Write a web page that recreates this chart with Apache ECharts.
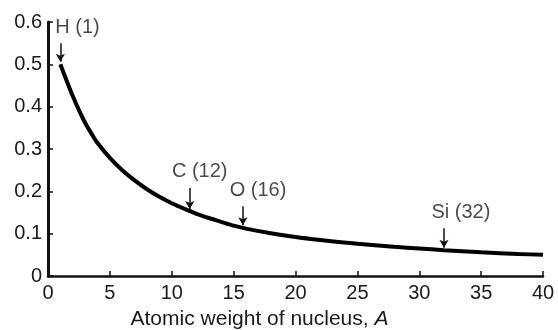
<!DOCTYPE html>
<html>
<head>
<meta charset="utf-8">
<script src="https://cdn.jsdelivr.net/npm/echarts@6/dist/echarts.min.js"></script>
<style>
  html, body { margin: 0; padding: 0; background: #fff; }
  #chart { width: 558px; height: 330px; }
</style>
</head>
<body>
<div id="chart"></div>
<script>
// curve
const atomicWeight = [1, 1.5, 2, 2.5, 3, 3.5, 4, 5, 6, 7, 8, 9, 10, 11, 12, 13, 14, 15, 16, 18, 20, 22, 25, 28, 30, 32, 35, 38, 40];
const energyLoss = [0.500, 0.462, 0.425, 0.392, 0.362, 0.337, 0.314, 0.279, 0.250, 0.226, 0.205, 0.187, 0.172, 0.159, 0.147, 0.137, 0.128, 0.119, 0.112, 0.101, 0.092, 0.085, 0.076, 0.069, 0.065, 0.061, 0.056, 0.052, 0.050];

// element markers
const noteNames = ['H (1)', 'C (12)', 'O (16)', 'Si (32)'];
const noteArrowX = [1, 11.45, 15.75, 32];
const noteArrowTop = [0.55, 0.208, 0.165, 0.113];
const noteArrowTip = [0.506, 0.158, 0.12, 0.067];
const noteLabelX = [2.38, 12.26, 16.97, 33.37];
const noteLabelY = [0.586, 0.246, 0.203, 0.149];

const xTicks = [0, 5, 10, 15, 20, 25, 30, 35, 40];
const yTicks = [0, 0.1, 0.2, 0.3, 0.4, 0.5, 0.6];

let font = 'Liberation Sans';
let myChart = echarts.init(document.getElementById('chart'));

let curve = atomicWeight.map((a, i) => [a, energyLoss[i]]);
let arrows = noteNames.map((n, i) => [
  {coord: [noteArrowX[i], noteArrowTop[i]]},
  {coord: [noteArrowX[i], noteArrowTip[i]]}
]);
let labels = noteNames.map((n, i) => ({name: n, value: [noteLabelX[i], noteLabelY[i]]}));

let option = {
  animation: false,
  grid: {left: 48, right: 15, top: 22, bottom: 54, containLabel: false, outerBoundsMode: 'none'},
  xAxis: {
    type: 'value',
    min: xTicks[0],
    max: xTicks[xTicks.length - 1],
    interval: 5,
    name: 'Atomic weight of nucleus, {i|A}',
    nameLocation: 'middle',
    nameGap: 33,
    nameTextStyle: {
      fontFamily: font, fontSize: 21, color: '#1a1a1a',
      padding: [0, 72, 0, 0],
      rich: {i: {fontFamily: font, fontSize: 21, fontStyle: 'italic', color: '#1a1a1a'}}
    },
    axisLine: {lineStyle: {color: '#111', width: 2.5}},
    axisTick: {inside: true, length: 5, lineStyle: {color: '#111', width: 1.5}},
    axisLabel: {fontFamily: font, fontSize: 20, color: '#1a1a1a', margin: 7},
    splitLine: {show: false}
  },
  yAxis: {
    type: 'value',
    min: yTicks[0],
    max: yTicks[yTicks.length - 1],
    interval: 0.1,
    axisLine: {show: true, lineStyle: {color: '#111', width: 3}},
    axisTick: {show: true, inside: true, length: 5, lineStyle: {color: '#111', width: 1.5}},
    axisLabel: {fontFamily: font, fontSize: 20, color: '#1a1a1a', margin: 6},
    splitLine: {show: false}
  },
  series: [
    {
      type: 'line',
      data: curve,
      smooth: 0.3,
      showSymbol: false,
      lineStyle: {color: '#000', width: 4},
      markLine: {
        silent: true,
        symbol: ['none', 'arrow'],
        symbolSize: [7, 8],
        label: {show: false},
        lineStyle: {color: '#111', width: 1.5, type: 'solid'},
        data: arrows
      }
    },
    {
      type: 'scatter',
      data: labels,
      symbolSize: 0,
      silent: true,
      label: {
        show: true,
        position: 'inside',
        formatter: p => p.name,
        fontFamily: font,
        fontSize: 20,
        color: '#1a1a1a'
      }
    }
  ]
};
myChart.setOption(option);
</script>
</body>
</html>
